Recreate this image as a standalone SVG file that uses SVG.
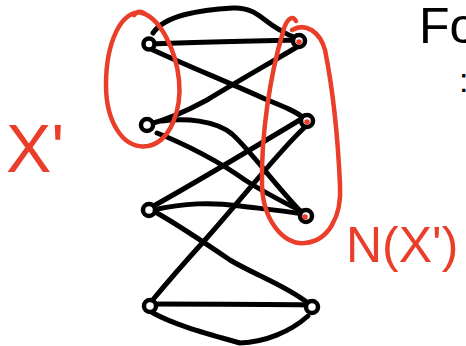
<svg xmlns="http://www.w3.org/2000/svg" width="466" height="346" viewBox="0 0 466 346">
<style>
.e{fill:none;stroke:#000;stroke-width:5;stroke-linecap:round;stroke-linejoin:round}
.n{fill:#fff;stroke:#000;stroke-width:4.5}
.d{fill:#ea3d2a}
.r{fill:none;stroke:#ea3d2a;stroke-width:4.5;stroke-linecap:round;stroke-linejoin:round}
.t{font-family:"Liberation Sans",Arial,sans-serif}
</style>
<rect width="466" height="346" fill="#fff"/>
<g id="edges">
<path class="e" d="M153 33 C165 15 200 10 233 8 C255 7 262 20 280 30 C288 35 293 37 297 38"/>
<path class="e" d="M150 44 C200 42 250 41 300 40"/>
<path class="e" d="M153 50 C190 67 230 83 265 99 C285 107 297 112 305 119"/>
<path class="e" d="M297 47 C270 63 240 80 207 100 C185 112 165 120 150 124"/>
<path class="e" d="M162 121 C185 118 215 120 232 134 C250 150 275 185 303 214"/>
<path class="e" d="M157 133 C185 144 220 162 245 180 C265 193 285 203 301 211"/>
<path class="e" d="M303 118 C255 147 200 180 150 208"/>
<path class="e" d="M304 128 C280 150 245 195 205 240 C185 262 165 285 151 302"/>
<path class="e" d="M153 210 C185 203 210 202 240 206 C265 209 285 211 303 214"/>
<path class="e" d="M157 213 C180 226 205 243 230 260 C255 275 285 285 308 303"/>
<path class="e" d="M151 304 C210 304 260 304 312 305"/>
<path class="e" d="M153 313 C175 325 205 333 240 343 C265 342 290 332 308 316"/>
</g>
<g id="L1"><circle class="n" cx="149" cy="44" r="5.5"/></g>
<g id="L2"><circle class="n" cx="147" cy="125" r="6"/></g>
<g id="L3"><circle class="n" cx="149" cy="210" r="6"/></g>
<g id="L4"><circle class="n" cx="150" cy="306" r="6"/></g>
<g id="R1"><circle class="n" cx="299" cy="41" r="6"/><circle class="d" cx="299" cy="42" r="2.8"/></g>
<g id="R2"><circle class="n" cx="307" cy="121" r="6"/><circle class="d" cx="307" cy="122" r="2.8"/></g>
<g id="R3"><circle class="n" cx="306" cy="216" r="6"/><circle class="d" cx="305" cy="217" r="2.8"/></g>
<g id="R4"><circle class="n" cx="312" cy="307" r="6"/></g>
<g id="Xset">
<path class="r" d="M134 15 C138 10 142 12 144 13 C120 8 106 45 106 85 C106 120 122 150 148 146 C170 142 182 110 179 80 C176 50 160 18 142 13"/>
<text class="t" x="6" y="172" font-size="68" fill="#ea3d2a">X'</text>
</g>
<g id="Nset">
<path class="r" d="M296 21 C292 14 286 20 283 32 C270 75 261 135 262 185 C263 220 283 245 305 243 C328 241 342 217 340 185 C338 140 333 90 325 50 C320 32 306 22 292 30"/>
<text class="t" x="346" y="262" font-size="50" fill="#ea3d2a">N(X')</text>
</g>
<text class="t" x="419" y="43" font-size="50" fill="#000">Fo</text>
<text class="t" x="459" y="92" font-size="34" fill="#000">:</text>
</svg>
